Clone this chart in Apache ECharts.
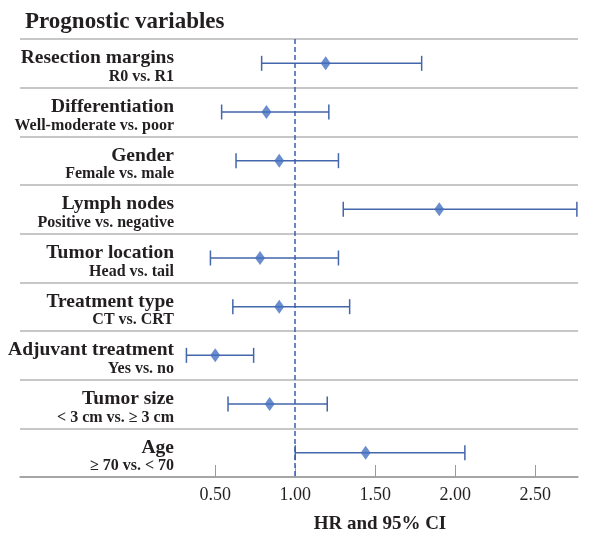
<!DOCTYPE html>
<html><head><meta charset="utf-8">
<script src="https://cdn.jsdelivr.net/npm/echarts@6/dist/echarts.min.js"></script>
<style>html,body{margin:0;padding:0;background:#fff}#c{width:601px;height:543px}</style>
</head><body><div id="c"></div>
<script>
const variables = ['Resection margins','Differentiation','Gender','Lymph nodes','Tumor location','Treatment type','Adjuvant treatment','Tumor size','Age'];
const comparisons = ['R0 vs. R1','Well-moderate vs. poor','Female vs. male','Positive vs. negative','Head vs. tail','CT vs. CRT','Yes vs. no','< 3 cm vs. \u2265 3 cm','\u2265 70 vs. < 70'];
const hr    = [1.19, 0.82, 0.90, 1.90, 0.78, 0.90, 0.50, 0.84, 1.44];
const lower = [0.79, 0.54, 0.63, 1.30, 0.47, 0.61, 0.32, 0.58, 1.00];
const upper = [1.79, 1.21, 1.27, 2.76, 1.27, 1.34, 0.74, 1.20, 2.06];
const tickValues = [0.5, 1.0, 1.5, 2.0, 2.5];

const blue = '#4466aa';
const serif = '"Liberation Serif", "Times New Roman", serif';
const textColor = '#231f20';

const chart = echarts.init(document.getElementById('c'));
const cats = variables.map((v,i)=>i);
chart.setOption({
  animation:false,
  title:[
    {text:'Prognostic variables', left:20, top:6, textStyle:{fontFamily:serif, fontSize:23, fontWeight:'bold', color:textColor}},
    {text:'HR and 95% CI', left:375, textAlign:'center', top:510, textStyle:{fontFamily:serif, fontSize:19, fontWeight:'bold', color:textColor}}
  ],
  grid:{left:20, right:23, top:39, bottom:66, containLabel:false},
  xAxis:{
    type:'value', min:-0.72, max:2.767,
    axisLine:{show:true, lineStyle:{color:'#9a9a9a', width:1.5}},
    axisTick:{show:true, inside:true, length:12, customValues:tickValues, lineStyle:{color:'#9a9a9a', width:1}},
    axisLabel:{show:true, customValues:tickValues, formatter:v=>v.toFixed(2), fontFamily:serif, fontSize:18, color:textColor, margin:9},
    splitLine:{show:false}
  },
  yAxis:{
    type:'category', inverse:true, data:cats,
    axisLine:{show:false}, axisTick:{show:false},
    splitLine:{show:true, lineStyle:{color:'#b4b4b4', width:1.5}},
    axisLabel:{
      inside:true, margin:154, align:'right',
      formatter:(v,i)=>'{a|'+variables[i]+'}\n{b|'+comparisons[i]+'}',
      rich:{
        a:{fontFamily:serif, fontSize:19.5, fontWeight:'bold', color:textColor, lineHeight:27, align:'right'},
        b:{fontFamily:serif, fontSize:16, fontWeight:'bold', color:textColor, lineHeight:10, align:'right'}
      }
    }
  },
  series:[
    {
      type:'custom',
      data: cats.map(i=>[lower[i], upper[i], i]),
      encode:{x:[0,1], y:2},
      renderItem:(params, api)=>{
        const lo = api.coord([api.value(0), api.value(2)]);
        const hi = api.coord([api.value(1), api.value(2)]);
        const h = 7.5;
        const st = {stroke:blue, lineWidth:1.5};
        return {type:'group', children:[
          {type:'line', shape:{x1:lo[0], y1:lo[1], x2:hi[0], y2:hi[1]}, style:st},
          {type:'line', shape:{x1:lo[0], y1:lo[1]-h, x2:lo[0], y2:lo[1]+h}, style:st},
          {type:'line', shape:{x1:hi[0], y1:hi[1]-h, x2:hi[0], y2:hi[1]+h}, style:st}
        ]};
      },
      z:2
    },
    {
      type:'scatter',
      data: cats.map(i=>[hr[i], i]),
      symbol:'diamond', symbolSize:[10,14],
      itemStyle:{color:'#4570c0'},
      z:3,
      markLine:{
        silent:true, symbol:'none', label:{show:false},
        lineStyle:{color:'#3a5fb0', type:[5,3], width:1.5},
        data:[{xAxis:1}]
      }
    }
  ]
});
</script></body></html>
